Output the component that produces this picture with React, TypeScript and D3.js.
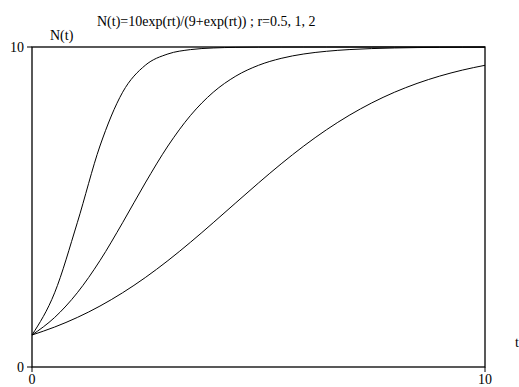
import React from "react";
import * as d3 from "d3";

const tValues = [0, 0.5, 1, 1.5, 2, 2.5, 3, 3.5, 4, 4.5, 5, 5.5, 6, 6.5, 7, 7.5, 8, 8.5, 9, 9.5, 10];
const seriesR05 = [1, 1.249, 1.548, 1.904, 2.32, 2.794, 3.324, 3.9, 4.509, 5.132, 5.751, 6.348, 6.906, 7.413, 7.863, 8.253, 8.585, 8.862, 9.091, 9.278, 9.428];
const seriesR1 = [1, 1.548, 2.32, 3.324, 4.509, 5.751, 6.906, 7.863, 8.585, 9.091, 9.428, 9.645, 9.782, 9.866, 9.919, 9.951, 9.97, 9.982, 9.989, 9.993, 9.996];
const seriesR2 = [1, 2.32, 4.509, 6.906, 8.585, 9.428, 9.782, 9.919, 9.97, 9.989, 9.996, 9.9985, 9.9995, 9.9998, 9.9999, 10, 10, 10, 10, 10, 10];
const xTicks = [0, 10];
const yTicks = [0, 10];
const title = "N(t)=10exp(rt)/(9+exp(rt)) ; r=0.5, 1, 2";

const FONT = "'Liberation Serif', 'Times New Roman', Times, serif";

export default function App() {
  const W = 519, H = 387;
  const x = d3.scaleLinear().domain([0, 10]).range([32, 485]);
  const y = d3.scaleLinear().domain([0, 10]).range([367, 47]);
  const line = d3
    .line<number>()
    .x((_, i) => x(tValues[i]))
    .y((d) => y(d))
    .curve(d3.curveMonotoneX);
  const series = [seriesR05, seriesR1, seriesR2];
  const ts: React.CSSProperties = { fontFamily: FONT, fontSize: "14px" };
  return (
    <svg width={W} height={H} style={{ position: "absolute", left: 0, top: 0, background: "#fff", fontFamily: FONT }}>
      <rect x={0} y={0} width={W} height={H} fill="#fff" />
      <text x={97} y={26} style={ts} fill="#000">{title}</text>
      <text x={50} y={40} style={ts} fill="#000">N(t)</text>
      <text x={515} y={347} style={ts} fill="#000">t</text>
      {series.map((s, i) => (
        <path key={i} d={line(s) || ""} fill="none" stroke="#000" strokeWidth={1} />
      ))}
      <rect x={x(0)} y={y(10)} width={x(10) - x(0)} height={y(0) - y(10)} fill="none" stroke="#000" strokeWidth={1.3} />
      {yTicks.map((v) => (
        <g key={"y" + v}>
          <line x1={x(0) - 5} x2={x(0)} y1={y(v)} y2={y(v)} stroke="#000" />
          <text x={x(0) - 8} y={y(v) + 5} style={ts} textAnchor="end">{v}</text>
        </g>
      ))}
      {xTicks.map((v) => (
        <g key={"x" + v}>
          <line x1={x(v)} x2={x(v)} y1={y(0)} y2={y(0) + 5} stroke="#000" />
          <text x={x(v)} y={y(0) + 17} style={ts} textAnchor="middle">{v}</text>
        </g>
      ))}
    </svg>
  );
}
